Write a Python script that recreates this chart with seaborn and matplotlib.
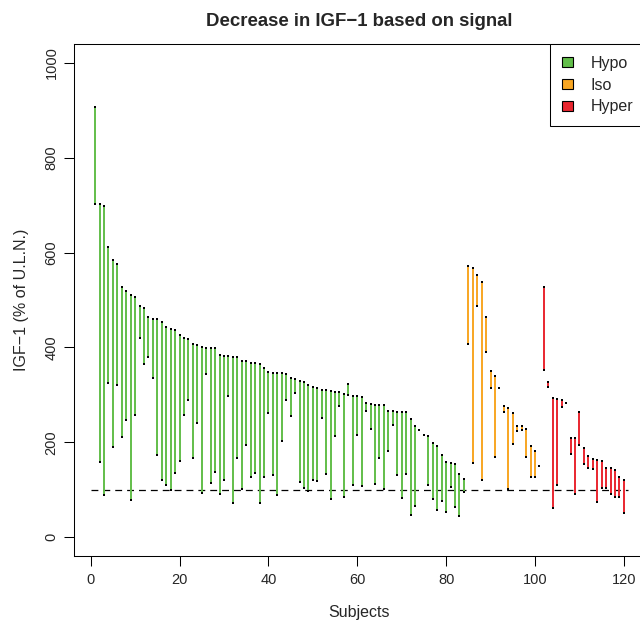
import numpy as np
import pandas as pd
import matplotlib
matplotlib.use("Agg")
import matplotlib.pyplot as plt
from matplotlib.patches import Patch
import seaborn as sns

# IGF-1 (% of ULN) before / after
hypo_before = [908, 703, 699, 611, 585, 575, 528, 519, 511, 506,
               487, 484, 464, 460, 459, 454, 443, 439, 436, 427,
               419, 418, 408, 406, 401, 398, 398, 398, 383, 381,
               381, 379, 379, 372, 372, 367, 367, 365, 357, 349,
               346, 346, 346, 343, 336, 333, 330, 328, 320, 317,
               315, 311, 310, 308, 306, 306, 301, 299, 298, 298,
               296, 283, 281, 279, 279, 278, 266, 266, 264, 264,
               264, 248, 235, 226, 215, 213, 199, 193, 173, 159,
               157, 154, 133, 123]
hypo_after = [703, 159, 88, 324, 190, 320, 211, 247, 78, 257,
              419, 365, 380, 336, 173, 120, 110, 99, 134, 161,
              257, 289, 167, 240, 93, 344, 114, 137, 91, 120,
              297, 71, 167, 102, 194, 127, 136, 71, 127, 262,
              131, 89, 203, 289, 255, 303, 116, 104, 98, 121,
              119, 252, 133, 81, 213, 277, 84, 322, 110, 216,
              108, 266, 227, 112, 166, 102, 182, 236, 131, 82,
              133, 46, 65, 226, 215, 110, 80, 57, 76, 52,
              105, 63, 44, 95]

iso_before = [572, 568, 553, 538, 464, 351, 340, 315, 277, 273,
              262, 235, 234, 227, 193, 182, 150]
iso_after = [407, 157, 487, 120, 391, 315, 169, 315, 263, 102,
             197, 223, 225, 169, 127, 127, 150]

hyper_before = [528, 326, 294, 291, 290, 282, 209, 208, 194, 187,
                171, 164, 162, 160, 145, 145, 141, 126, 120]
hyper_after = [352, 317, 62, 110, 275, 282, 175, 91, 264, 154,
               145, 143, 74, 103, 103, 91, 84, 84, 51]

groups = ["Hypo", "Iso", "Hyper"]
colors = {"Hypo": "#62BE4A", "Iso": "#F8A622", "Hyper": "#E9262F"}
ref_level = 100

before = hypo_before + iso_before + hyper_before
after = hypo_after + iso_after + hyper_after
group = (["Hypo"] * len(hypo_before) + ["Iso"] * len(iso_before)
         + ["Hyper"] * len(hyper_before))
subject = np.arange(1, len(before) + 1)

wide = pd.DataFrame({"subject": subject, "before": before,
                     "after": after, "group": group})
df = wide.melt(id_vars=["subject", "group"], value_vars=["before", "after"],
               var_name="time", value_name="igf1")

sns.set_style("white")
plt.rcParams["font.family"] = ["Liberation Sans", "DejaVu Sans"]

fig = plt.figure(figsize=(6.4, 6.24), dpi=100)
ax = fig.add_axes([0.1156, 0.109, 0.8922, 0.8205])

sns.lineplot(data=df, x="subject", y="igf1", hue="group", units="subject",
             estimator=None, palette=colors, hue_order=groups, lw=1.4,
             legend=False, ax=ax)
sns.scatterplot(data=df, x="subject", y="igf1", color="black", marker="s",
                s=3, linewidth=0, ax=ax, zorder=3)
ax.hlines(ref_level, 0, len(before) + 1, colors="black", lw=0.9,
          linestyles=(0, (5.5, 4)), zorder=1)

ax.set_xlim(-3.76, 124.76)
ax.set_ylim(-40, 1040)
ax.set_xticks(range(0, 121, 20))
ax.set_yticks(range(0, 1001, 200))
ax.tick_params(axis="both", direction="out", length=7.2, width=0.75,
               labelsize=10.5, color="black", bottom=True, left=True)
ax.tick_params(axis="x", pad=5)
ax.tick_params(axis="y", pad=4)
for lab in ax.get_yticklabels():
    lab.set_rotation(90)
    lab.set_va("center")
for sp in ax.spines.values():
    sp.set_color("black")
    sp.set_linewidth(0.75)

ax.set_xlabel("Subjects", fontsize=11.5, labelpad=13)
ax.set_ylabel("IGF\u22121 (% of U.L.N.)", fontsize=11.5, labelpad=11)
ax.set_title("Decrease in IGF\u22121 based on signal", fontsize=13.4,
             fontweight="bold", pad=13)

handles = [Patch(facecolor=colors[g], edgecolor="black", lw=0.8, label=g)
           for g in groups]
leg = ax.legend(handles=handles, loc="upper right", bbox_to_anchor=(1, 1),
                borderaxespad=0, fancybox=False, framealpha=1,
                edgecolor="black", fontsize=11.5, handlelength=0.7,
                handleheight=0.6, handletextpad=1.1, labelspacing=0.42,
                borderpad=0.75)
leg.get_frame().set_linewidth(0.75)

fig.savefig("out.png", dpi=100)
